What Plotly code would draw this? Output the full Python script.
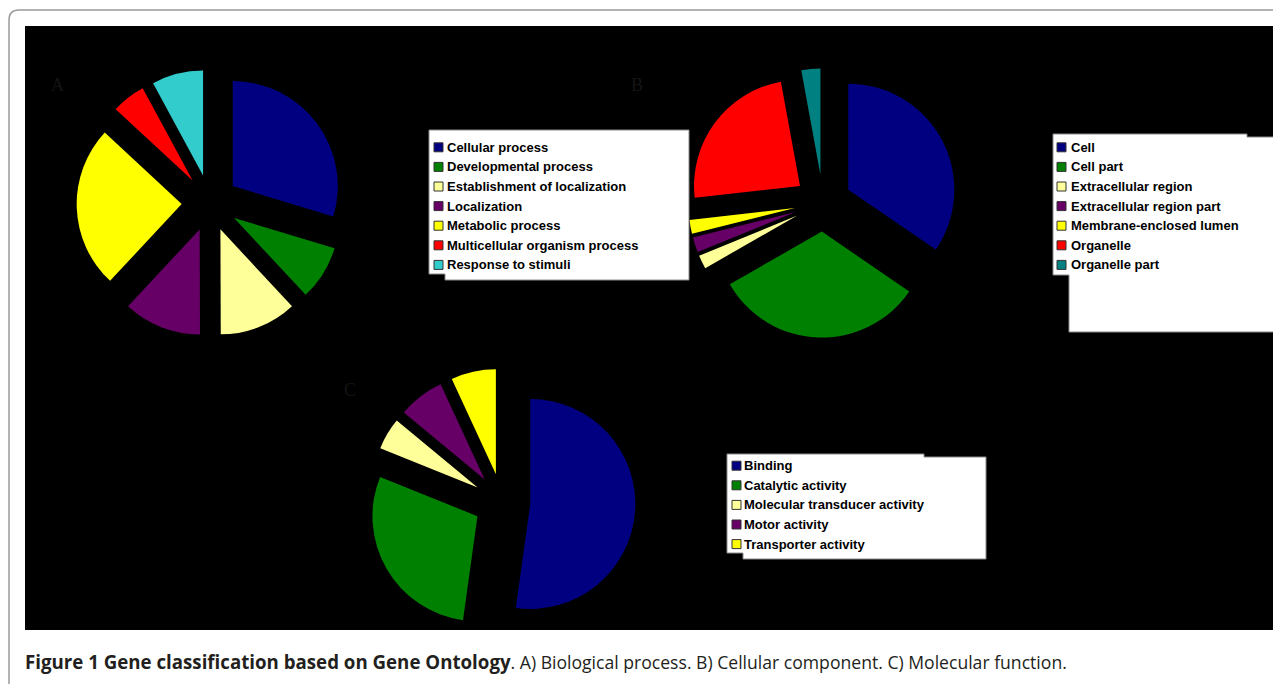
import plotly.graph_objects as go

# page body has an 8px margin, so the figure is drawn 8px smaller and offset
OFF = 8
W, H = 1281 - OFF, 684 - OFF

# ---------------- data ----------------
bp_labels = ["Cellular process", "Developmental process", "Establishment of localization",
             "Localization", "Metabolic process", "Multicellular organism process",
             "Response to stimuli"]
bp_values = [29.7, 8.4, 11.9, 12.0, 25.0, 5.2, 7.9]
bp_colors = ["#000080", "#008000", "#FFFF99", "#660066", "#FFFF00", "#FF0000", "#33CCCC"]

cc_labels = ["Cell", "Cell part", "Extracellular region", "Extracellular region part",
             "Membrane-enclosed lumen", "Organelle", "Organelle part"]
cc_values = [34.7, 32.3, 2.1, 2.3, 2.1, 24.0, 2.9]
cc_colors = ["#000080", "#008000", "#FFFF99", "#660066", "#FFFF00", "#FF0000", "#008080"]

mf_labels = ["Binding", "Catalytic activity", "Molecular transducer activity",
             "Motor activity", "Transporter activity"]
mf_values = [52.2, 28.9, 4.9, 7.1, 6.9]
mf_colors = ["#000080", "#008000", "#FFFF99", "#660066", "#FFFF00"]

caption_bold = "Figure 1 Gene classification based on Gene Ontology"
caption_rest = ". A) Biological process. B) Cellular component. C) Molecular function."


def X(px):
    return (px - OFF) / W


def Y(py):
    return 1 - (py - OFF) / H


PULL = 0.27


def pie_domain(cx, cy, r):
    half = r * (1 + PULL)
    return dict(x=[X(cx - half), X(cx + half)], y=[Y(cy + half), Y(cy - half)])


fig = go.Figure()

for labels, values, colors, (cx, cy, r) in [
    (bp_labels, bp_values, bp_colors, (210, 203, 105)),
    (cc_labels, cc_values, cc_colors, (823, 203, 106)),
    (mf_labels, mf_values, mf_colors, (502, 502, 105)),
]:
    fig.add_trace(go.Pie(
        labels=labels, values=values, sort=False, direction="clockwise", rotation=0,
        marker=dict(colors=colors, line=dict(width=0)),
        pull=[PULL] * len(values), textinfo="none", showlegend=False,
        domain=pie_domain(cx, cy, r),
    ))

shapes = []
annotations = []

# outer rounded frame
shapes.append(dict(type="path", xref="paper", yref="paper",
                   path=f"M {X(9)},{Y(690)} L {X(9)},{Y(20)} Q {X(9)},{Y(10)} {X(19)},{Y(10)} L {X(1290)},{Y(10)}",
                   line=dict(color="#9a9a9a", width=1.5)))
# black panel
shapes.append(dict(type="rect", xref="paper", yref="paper", layer="below",
                   x0=X(25), x1=X(1279), y0=Y(630), y1=Y(26),
                   fillcolor="black", line=dict(width=0)))


def legend_box(pts):
    d = "M " + " L ".join(f"{X(a)},{Y(b)}" for a, b in pts) + " Z"
    shapes.append(dict(type="path", xref="paper", yref="paper", path=d,
                       fillcolor="white", line=dict(color="#8a8a8a", width=1)))


def legend_items(labels, colors, sx, tx, y0, dy=19.6):
    for i, (lab, col) in enumerate(zip(labels, colors)):
        yc = y0 + i * dy
        shapes.append(dict(type="rect", xref="paper", yref="paper",
                           x0=X(sx), x1=X(sx + 9), y0=Y(yc + 4.5), y1=Y(yc - 4.5),
                           fillcolor=col, line=dict(color="#333333", width=1)))
        annotations.append(dict(xref="paper", yref="paper", x=X(tx), y=Y(yc),
                                xanchor="left", yanchor="middle", showarrow=False,
                                text=f"<b>{lab}</b>",
                                font=dict(family="Liberation Sans, Arial", size=13, color="black")))


legend_box([(429, 130), (689, 130), (689, 280), (445, 280), (445, 274), (429, 274)])
legend_items(bp_labels, bp_colors, 434, 444.5, 147.3)

legend_box([(1053, 134), (1247, 134), (1247, 137), (1278, 137), (1278, 332),
            (1069, 332), (1069, 275), (1053, 275)])
legend_items(cc_labels, cc_colors, 1057, 1068.5, 147.3)

legend_box([(727, 454), (924, 454), (924, 457), (986, 457), (986, 559),
            (743, 559), (743, 553), (727, 553)])
legend_items(mf_labels, mf_colors, 732, 742, 465.7)

# faint panel letters
for lab, px, py in [("A", 49, 73), ("B", 637, 73), ("C", 342, 390)]:
    annotations.append(dict(xref="paper", yref="paper", x=X(px), y=Y(py), showarrow=False,
                            text=lab, font=dict(family="Liberation Serif", size=18, color="#141414")))

caption = (f"<span style='font-size:18.7px'><b>{caption_bold}</b></span>"
           f"<span style='font-size:17.6px'>{caption_rest}</span>")
annotations.append(dict(xref="paper", yref="paper", x=X(23), y=Y(661), xanchor="left",
                        yanchor="middle", showarrow=False, text=caption,
                        font=dict(family="Open Sans", size=18, color="#231f20")))

fig.update_layout(width=W, height=H, margin=dict(l=0, r=0, t=0, b=0),
                  paper_bgcolor="white", plot_bgcolor="white",
                  shapes=shapes, annotations=annotations, showlegend=False)

fig.write_html("out.html")
